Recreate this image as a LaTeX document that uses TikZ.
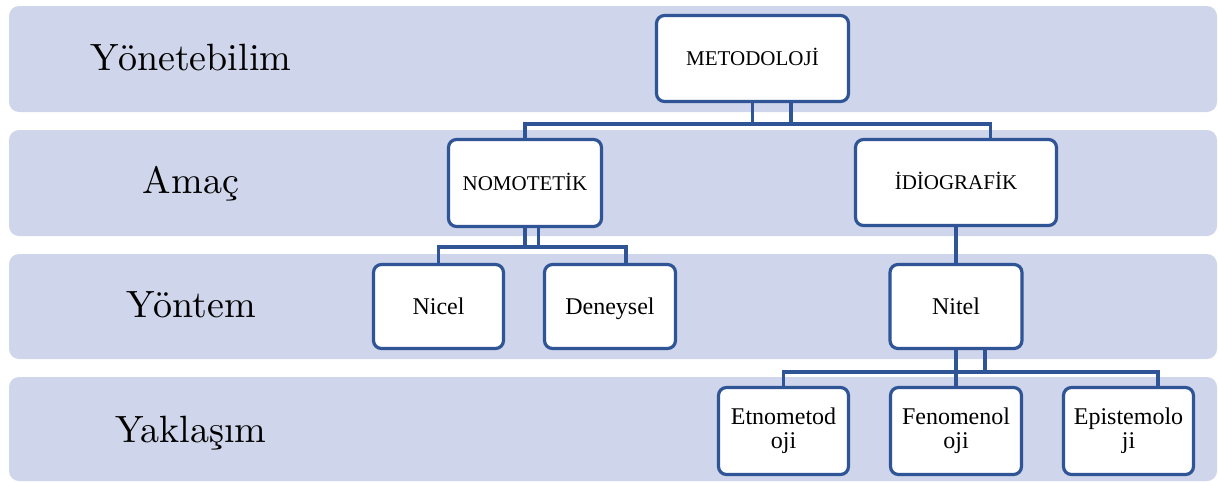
\documentclass[tikz,border=0pt]{standalone}
\usepackage{fontspec}
\newfontfamily\tnr{Liberation Serif}
\newfontfamily\lmten{lmroman10-regular.otf}
\usetikzlibrary{calc}
\definecolor{bandfill}{RGB}{207,213,234}
\definecolor{lineblue}{RGB}{47,85,151}
\begin{document}
\begin{tikzpicture}[x=1pt,y=-1pt,
  bandbox/.style={fill=bandfill, draw=none, rounded corners=10pt},
  lbl/.style={font=\lmten\fontsize{38}{44}\selectfont, anchor=base, inner sep=0pt},
  orgbox/.style={draw=lineblue, line width=3.2pt, fill=white, rounded corners=8pt,
    inner sep=0pt, align=center},
  big/.style={font=\tnr\fontsize{21}{24}\selectfont, text height=14pt, text depth=0pt},
  mid/.style={font=\tnr\fontsize{24}{24}\selectfont, text height=16pt, text depth=0pt},
  two/.style={font=\tnr\fontsize{24}{24}\selectfont},
  conn/.style={draw=lineblue, line width=3.2pt},
]
\useasboundingbox (0,0) rectangle (1219,482);
% bands
\path[bandbox] (9,6) rectangle (1217,112);
\path[bandbox] (9,130) rectangle (1217,236);
\path[bandbox] (9,254) rectangle (1217,359);
\path[bandbox] (9,377) rectangle (1217,481);
% band labels
\node[lbl] (l1) at (191,70) {Yönetebilim};
\node[lbl] (l2) at (191,193.5) {Amaç};
\node[lbl] (l3) at (191,317) {Yöntem};
\node[lbl] (l4) at (191,442) {Yaklaşım};
% connector coordinates
\coordinate (b1R) at (990.7,124);
\coordinate (m2) at (791,124);
\coordinate (b2R) at (626,247);
\coordinate (n2) at (538.5,247);
\coordinate (t2) at (985,372);
\coordinate (b3R) at (1158,372);
% boxes (positions)
\path (752.5,58.5) coordinate (pmeto)
      (525,183) coordinate (pnomo)
      (956,182.5) coordinate (pidio)
      (438.5,306.5) coordinate (pnicel)
      (610,306.5) coordinate (pden)
      (956,306.5) coordinate (pnitel)
      (783.5,431) coordinate (petno)
      (956,431) coordinate (pfeno)
      (1128.5,431) coordinate (pepi);
\node[orgbox,big,minimum width=192pt,minimum height=86pt] (meto) at (pmeto) {METODOLOJİ};
\node[orgbox,big,minimum width=153pt,minimum height=87pt] (nomo) at (pnomo) {NOMOTETİK};
\node[orgbox,big,minimum width=201pt,minimum height=86pt] (idio) at (pidio) {İDİOGRAFİK};
\node[orgbox,mid,minimum width=130pt,minimum height=84pt] (nicel) at (pnicel) {Nicel};
\node[orgbox,mid,minimum width=131pt,minimum height=84pt] (den) at (pden) {Deneysel};
\node[orgbox,mid,minimum width=132pt,minimum height=84pt] (nitel) at (pnitel) {Nitel};
\node[orgbox,two,minimum width=130pt,minimum height=87pt] (etno) at (petno) {Etnometod\\oji};
\node[orgbox,two,minimum width=131pt,minimum height=87pt] (feno) at (pfeno) {Fenomenol\\oji};
\node[orgbox,two,minimum width=130pt,minimum height=87pt] (epi) at (pepi) {Epistemolo\\ji};
% connectors
\draw[conn] (meto.south) -- (meto.south |- b1R);
\draw[conn] (m2 |- meto.south) -- (m2);
\draw[conn] (nomo.north) |- (b1R) -- (b1R |- idio.north);
\draw[conn] (nomo.south) -- (nomo.south |- b2R);
\draw[conn] (n2 |- nomo.south) -- (n2);
\draw[conn] (nicel.north) |- (b2R) -- (b2R |- den.north);
\draw[conn] (idio.south) -- (nitel.north);
\draw[conn] (nitel.south) -- (feno.north);
\draw[conn] (t2 |- nitel.south) -- (t2);
\draw[conn] (etno.north) |- (b3R) -- (b3R |- epi.north);
\end{tikzpicture}
\end{document}
